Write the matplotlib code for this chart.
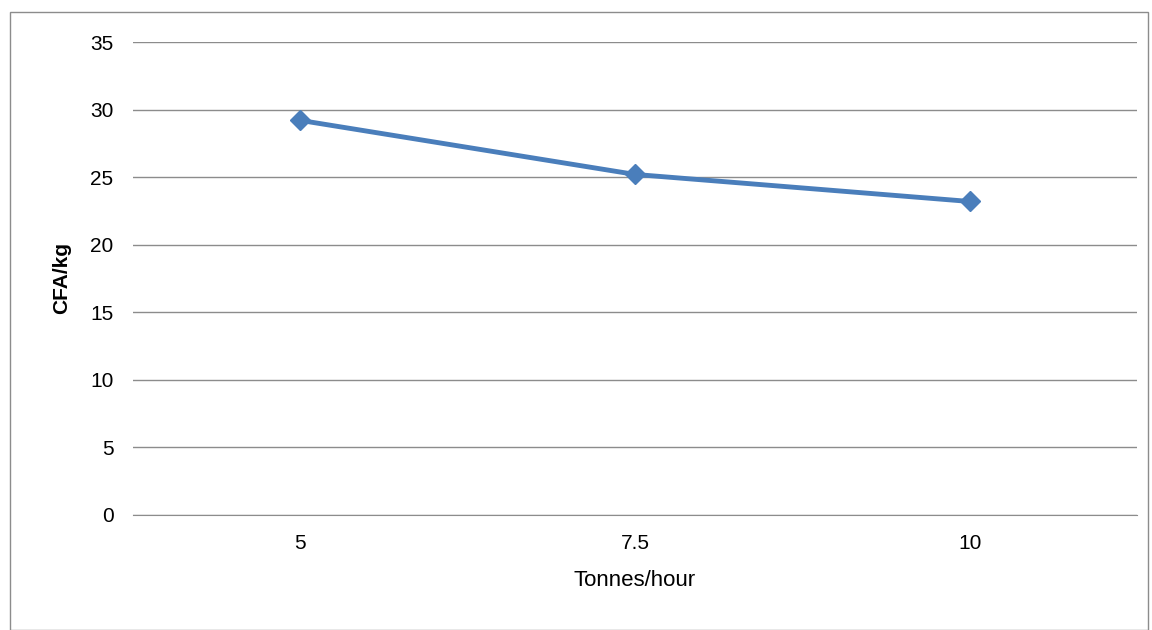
import matplotlib
matplotlib.use("Agg")
import matplotlib.pyplot as plt
from matplotlib.patches import Rectangle

plt.rcParams['font.family'] = ['Liberation Sans', 'DejaVu Sans']

categories = ["5", "7.5", "10"]
cost = [29.2, 25.2, 23.2]

fig = plt.figure(figsize=(11.52, 6.3), dpi=100)
fig.patches.append(Rectangle((10/1152, 0), 1138/1152, 618/630, transform=fig.transFigure,
                             fill=False, edgecolor="#8c8c8c", linewidth=1))
ax = fig.add_axes([133/1152, 115/630, 1004/1152, 473/630])

x = range(len(categories))
ax.plot(x, cost, color="#4a7ebb", linewidth=3.5, marker="D", markersize=10, zorder=3)

ax.set_xlim(-0.5, len(categories) - 0.5)
ax.set_ylim(0, 35)
ax.set_yticks(range(0, 36, 5))
ax.set_xticks(list(x))
ax.set_xticklabels(categories)
ax.grid(axis="y", color="#8c8c8c", linewidth=1)
ax.set_axisbelow(True)
for s in ["top", "right", "left"]:
    ax.spines[s].set_visible(False)
ax.spines["bottom"].set_color("#8c8c8c")
ax.tick_params(axis="y", length=0, labelsize=15, pad=14)
ax.tick_params(axis="x", length=0, labelsize=15, pad=14)
ax.set_xlabel("Tonnes/hour", fontsize=16, labelpad=12)
ax.set_ylabel("CFA/kg", fontsize=15, fontweight="bold", labelpad=14)

fig.savefig("out.png")
